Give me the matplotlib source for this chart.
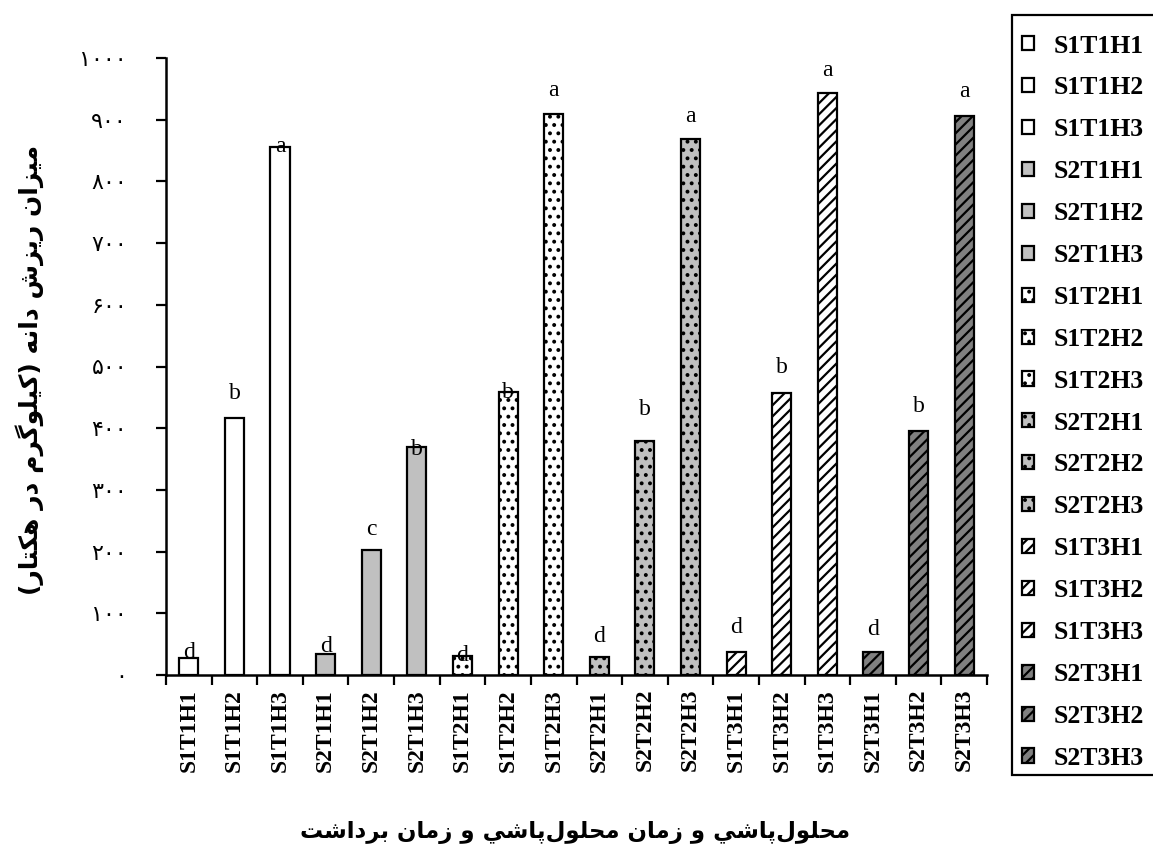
import unicodedata
import matplotlib
matplotlib.use("Agg")
import matplotlib.pyplot as plt
from matplotlib.patches import Rectangle

# ---------------- data ----------------
categories = ["S1T1H1", "S1T1H2", "S1T1H3", "S2T1H1", "S2T1H2", "S2T1H3",
              "S1T2H1", "S1T2H2", "S1T2H3", "S2T2H1", "S2T2H2", "S2T2H3",
              "S1T3H1", "S1T3H2", "S1T3H3", "S2T3H1", "S2T3H2", "S2T3H3"]
values = [27, 417, 856, 34, 202, 370,
          31, 458, 909, 29, 380, 869,
          37, 457, 943, 37, 396, 906]
letters = ["d", "b", "a", "d", "c", "b",
           "d", "b", "a", "d", "b", "a",
           "d", "b", "a", "d", "b", "a"]
ytick_values = [0, 100, 200, 300, 400, 500, 600, 700, 800, 900, 1000]
ylabel_text = "میزان ریزش دانه (کیلوگرم در هکتار)"
xlabel_text = "محلول\u200cپاشي و زمان محلول\u200cپاشي و زمان برداشت"

# ---------------- styles ----------------
letter_offsets = [10, 40, 0, 13, 34, -5, 0, 0, 39, 34, 50, 36, 40, 42, 37, 37, 39, 39]
group_styles = [  # (facecolor, hatch) for each group of three
    ("white", ""), ("#c0c0c0", ""), ("white", ".."),
    ("#c0c0c0", ".."), ("white", "///"), ("#808080", "///"),
]

# ---------------- Arabic/Persian shaping ----------------
def _build_forms():
    forms = {}
    for cp in list(range(0xFB50, 0xFE00)) + list(range(0xFE70, 0xFF00)):
        d = unicodedata.decomposition(chr(cp))
        if not d:
            continue
        parts = d.split()
        if len(parts) == 2 and parts[0] in ("<isolated>", "<final>", "<initial>", "<medial>"):
            base = chr(int(parts[1], 16))
            forms.setdefault(base, {}).setdefault(parts[0][1:-1], chr(cp))
    return forms

_FORMS = _build_forms()

def _joins_next(c):
    return c in _FORMS and ("initial" in _FORMS[c] or "medial" in _FORMS[c])

def _joins_prev(c):
    return c in _FORMS and ("final" in _FORMS[c])

def shape_rtl(text):
    out = []
    n = len(text)
    for i, c in enumerate(text):
        if c not in _FORMS:
            out.append(c)
            continue
        p = text[i - 1] if i > 0 else None
        q = text[i + 1] if i < n - 1 else None
        jp = p is not None and _joins_next(p) and _joins_prev(c)
        jn = q is not None and _joins_prev(q) and _joins_next(c)
        f = _FORMS[c]
        if jp and jn and "medial" in f:
            out.append(f["medial"])
        elif jp and "final" in f:
            out.append(f["final"])
        elif jn and "initial" in f:
            out.append(f["initial"])
        else:
            out.append(f.get("isolated", c))
    s = "".join(out).replace("\u200c", "")
    s = s[::-1]
    s = s.translate(str.maketrans({"(": ")", ")": "("}))
    return s

def persian_digits(v):
    return str(v).translate(str.maketrans("0123456789", "۰۱۲۳۴۵۶۷۸۹"))

# ---------------- figure ----------------
plt.rcParams["hatch.linewidth"] = 1.6
plt.rcParams["hatch.color"] = "black"

W, H = 1153, 865
fig = plt.figure(figsize=(W / 100, H / 100), dpi=100)
ax = fig.add_axes([166 / W, 1 - 675 / H, 821 / W, (675 - 58) / H])

x = list(range(len(categories)))
bars = []
for i, (xi, v) in enumerate(zip(x, values)):
    fc, h = group_styles[i // 3]
    b = ax.bar(xi, v, width=0.42, color=fc, edgecolor="black", linewidth=1.6,
               hatch=h, label=categories[i], zorder=2)
    bars.append(b[0])

for xi, v, lt, off in zip(x, values, letters, letter_offsets):
    ax.text(xi, v + off, lt, ha="center", va="center",
            fontsize=17, family="Liberation Serif", zorder=3)

ax.set_xlim(-0.5, len(categories) - 0.5)
ax.set_ylim(0, 1000)
for s in ("top", "right"):
    ax.spines[s].set_visible(False)
for s in ("left", "bottom"):
    ax.spines[s].set_linewidth(1.8)

ax.set_yticks(ytick_values)
ax.set_yticklabels([persian_digits(v) for v in ytick_values],
                   family="DejaVu Sans", fontsize=16)
ax.tick_params(axis="y", direction="out", length=7, width=1.6, pad=21)

ax.set_xticks([i - 0.5 for i in range(len(categories) + 1)])
ax.set_xticklabels([])
ax.set_xticks(x, minor=True)
ax.set_xticklabels(categories, minor=True, rotation=90,
                   family="Liberation Serif", fontweight="bold", fontsize=17)
ax.tick_params(axis="x", which="major", direction="out", length=7, width=1.6)
ax.tick_params(axis="x", which="minor", length=0, pad=10)

fig.text(30 / W, 1 - 370 / H, shape_rtl(ylabel_text), rotation=90,
         ha="center", va="center", family="DejaVu Sans", fontweight="bold", fontsize=18)
fig.text(575 / W, 1 - 833 / H, shape_rtl(xlabel_text),
         ha="center", va="center", family="DejaVu Sans", fontweight="bold", fontsize=16.5)

# legend frame drawn separately (box runs off the right edge)
fig.patches.append(Rectangle((1012 / W, 1 - 775 / H), 200 / W, (775 - 15) / H,
                             transform=fig.transFigure, facecolor="white",
                             edgecolor="black", linewidth=1.6, zorder=0))
leg = fig.legend(handles=bars, labels=categories, loc="upper left",
                 bbox_to_anchor=(1010 / W, 1 - 23 / H),
                 prop={"family": "Liberation Serif", "weight": "bold", "size": 18.5},
                 frameon=False,
                 handlelength=0.47, handleheight=0.47, handletextpad=0.78,
                 labelspacing=0.735, borderpad=0.45, borderaxespad=0)

fig.savefig("out.png", dpi=100)
